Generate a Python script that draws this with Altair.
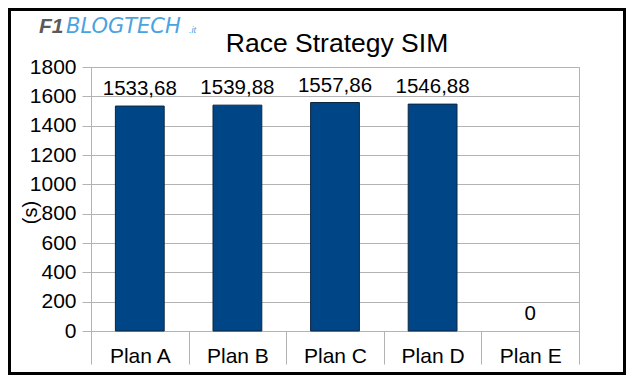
import altair as alt
import pandas as pd

plans = ["Plan A", "Plan B", "Plan C", "Plan D", "Plan E"]
times = [1533.68, 1539.88, 1557.86, 1546.88, 0]
y_ticks = [0, 200, 400, 600, 800, 1000, 1200, 1400, 1600, 1800]

labels = [("0" if v == 0 else f"{v:.2f}".replace(".", ",")) for v in times]
df = pd.DataFrame({"plan": plans, "value": times, "label": labels})

FONT = "Liberation Sans"
GRID = "#b3b3b3"

x_enc = alt.X(
    "plan:N",
    sort=plans,
    scale=alt.Scale(paddingInner=0, paddingOuter=0),
    axis=alt.Axis(
        title=None,
        domain=False,
        ticks=True,
        tickBand="extent",
        tickSize=33,
        tickColor=GRID,
        labelFontSize=21,
        labelFont=FONT,
        labelColor="black",
        labelBaseline="middle",
        labelPadding=-8,
        labelAngle=0,
    ),
)
y_enc = alt.Y(
    "value:Q",
    scale=alt.Scale(domain=[0, 1800], nice=False),
    axis=alt.Axis(
        values=y_ticks,
        format="d",
        labelOverlap=False,
        title="(s)",
        titleFont=FONT,
        titleFontSize=20,
        titleFontWeight="normal",
        titleColor="black",
        titleX=-61,
        titleY=145,
        titleAngle=270,
        titleAlign="center",
        titleBaseline="middle",
        domain=True,
        domainColor=GRID,
        gridColor=GRID,
        tickColor=GRID,
        tickSize=9,
        labelFontSize=21,
        labelFont=FONT,
        labelColor="black",
        labelPadding=6,
    ),
)

bars = (
    alt.Chart(df)
    .transform_filter("datum.value > 0")
    .mark_bar(width=alt.RelativeBandSize(0.5), color="#004586", stroke="#0d2640", strokeWidth=1)
    .encode(x=x_enc, y=y_enc)
)

text = (
    alt.Chart(df)
    .mark_text(dy=-11, baseline="alphabetic", fontSize=20.5, font=FONT, color="black")
    .encode(x=x_enc, y=y_enc, text="label:N")
)

one = pd.DataFrame({"k": [0]})

frame = alt.Chart(one).mark_rect(fill=None, stroke="black", strokeWidth=3, clip=False).encode(
    x=alt.value(-81.5), x2=alt.value(533.5), y=alt.value(-57.5), y2=alt.value(306.5)
)

title = alt.Chart(one).mark_text(
    text="Race Strategy SIM", fontSize=26.5, font=FONT, color="black", baseline="alphabetic", align="center"
).encode(x=alt.value(246), y=alt.value(-15))

logo_f1 = alt.Chart(one).mark_text(
    text="F1", fontSize=21, font=FONT, fontWeight="bold", fontStyle="italic", color="#5a5a5a",
    baseline="alphabetic", align="left"
).encode(x=alt.value(-52), y=alt.value(-34))

logo_blog = alt.Chart(one).mark_text(
    text="BLOGTECH", fontSize=21, font="DejaVu Sans", fontStyle="italic", color="#4aa3df",
    baseline="alphabetic", align="left"
).encode(x=alt.value(-25), y=alt.value(-34))

logo_it = alt.Chart(one).mark_text(
    text=".it", fontSize=9, font=FONT, fontStyle="italic", color="#4aa3df",
    baseline="alphabetic", align="left"
).encode(x=alt.value(98), y=alt.value(-34))

chart = (
    alt.layer(bars, text, frame, title, logo_f1, logo_blog, logo_it)
    .properties(
        width=488,
        height=264,
        autosize=alt.AutoSizeParams(type="none"),
        padding={"left": 83, "top": 59, "right": 48, "bottom": 45},
        background="white",
    )
    .configure_view(stroke=GRID, strokeWidth=1)
)

chart.save("out.html", embed_options={"renderer": "svg", "actions": False})
